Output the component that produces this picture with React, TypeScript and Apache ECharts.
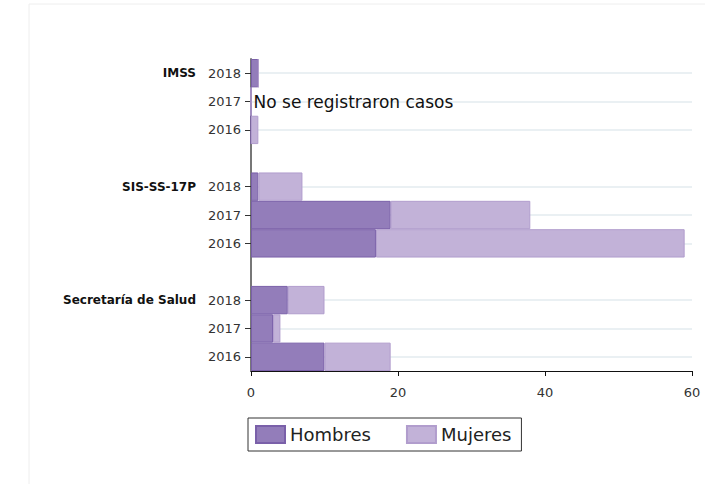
import React, { useEffect, useRef } from "react";
import * as echarts from "echarts";

// rows from top to bottom ("gap" rows are empty separators)
const rowKeys = ["IMSS|2018", "IMSS|2017", "IMSS|2016", "gap1", "SIS|2018", "SIS|2017", "SIS|2016", "gap2", "SS|2018", "SS|2017", "SS|2016"];
const rowYears = ["2018", "2017", "2016", "", "2018", "2017", "2016", "", "2018", "2017", "2016"];
const rowGroups = ["IMSS", "", "", "", "SIS-SS-17P", "", "", "", "Secretaría de Salud", "", ""];
const hombres = [1, 0, 0, null, 1, 19, 17, null, 5, 3, 10];
const mujeres = [0, 0, 1, null, 6, 19, 42, null, 5, 1, 9];
const noteRow = 1;
const noteText = "No se registraron casos";
const xTicks = [0, 20, 40, 60];

const FONT = "'DejaVu Sans', sans-serif";

export default function App() {
  const ref = useRef<HTMLDivElement>(null);
  useEffect(() => {
    if (!ref.current) return;
    const chart = echarts.init(ref.current, null, { renderer: "svg" });
    const realRows = rowKeys.filter((_, i) => rowYears[i] !== "");
    const option: any = {
      animation: false,
      textStyle: { fontFamily: FONT },
      graphic: [
        { type: "line", shape: { x1: 29, y1: 4, x2: 705, y2: 4 }, style: { stroke: "#eeeeee", lineWidth: 1 }, silent: true },
        { type: "line", shape: { x1: 29, y1: 4, x2: 29, y2: 484 }, style: { stroke: "#eeeeee", lineWidth: 1 }, silent: true },
      ],
      grid: { left: 251, right: 30, top: 59, bottom: 113, containLabel: false },
      legend: {
        left: 248,
        top: 418,
        orient: "horizontal",
        borderColor: "#333",
        borderWidth: 1,
        padding: [7, 10, 7, 7],
        itemWidth: 29,
        itemHeight: 17,
        itemGap: 35,
        icon: "rect",
        textStyle: { fontSize: 18, color: "#222", fontFamily: FONT },
        data: ["Hombres", "Mujeres"],
      },
      xAxis: {
        type: "value",
        min: xTicks[0],
        max: xTicks[xTicks.length - 1],
        interval: 20,
        axisLine: { show: true, lineStyle: { color: "#111", width: 1 } },
        axisTick: { show: true, length: 5, lineStyle: { color: "#111" } },
        axisLabel: { color: "#333", fontSize: 13, margin: 15 },
        splitLine: { show: false },
      },
      yAxis: [
        {
          type: "category",
          data: rowKeys,
          inverse: true,
          boundaryGap: true,
          axisLine: { show: true, lineStyle: { color: "#777", width: 2 } },
          axisTick: {
            show: true,
            alignWithLabel: true,
            length: 6,
            lineStyle: { color: "#333" },
            interval: (i: number) => rowYears[i] !== "",
          },
          axisLabel: {
            interval: 0,
            color: "#333",
            fontSize: 13,
            margin: 10,
            formatter: (_v: string, i: number) => rowYears[i],
          },
          splitLine: { show: false },
        },
        {
          type: "category",
          data: rowKeys,
          inverse: true,
          position: "left",
          axisLine: { show: false },
          axisTick: { show: false },
          axisLabel: {
            interval: 0,
            color: "#111",
            fontSize: 12,
            fontWeight: "bold",
            margin: 55,
            formatter: (_v: string, i: number) => rowGroups[i],
          },
          splitLine: { show: false },
        },
      ],
      series: [
        {
          type: "line",
          data: [],
          z: 1,
          silent: true,
          markLine: {
            z: 1,
            silent: true,
            symbol: ["none", "none"],
            label: { show: false },
            lineStyle: { color: "#eaf0f3", width: 2, type: "solid" },
            data: realRows.map((k) => ({ yAxis: k })),
          },
        },
        {
          name: "Hombres",
          type: "bar",
          stack: "total",
          z: 2,
          barCategoryGap: "0%",
          itemStyle: { color: "#937dba", borderColor: "#7a60a9", borderWidth: 1 },
          data: hombres.map((v, i) =>
            i === noteRow
              ? {
                  value: v,
                  label: {
                    show: true,
                    position: "right",
                    distance: 2,
                    formatter: noteText,
                    color: "#111",
                    fontSize: 17,
                    fontFamily: FONT,
                  },
                }
              : v === null
              ? "-"
              : v
          ),
        },
        {
          name: "Mujeres",
          type: "bar",
          stack: "total",
          z: 2,
          barCategoryGap: "0%",
          itemStyle: { color: "#c2b2d8", borderColor: "#b19dcd", borderWidth: 1 },
          data: mujeres.map((v) => (v === null ? "-" : v)),
        },
      ],
    };
    chart.setOption(option);
    return () => chart.dispose();
  }, []);
  return (
    <div
      ref={ref}
      style={{ position: "fixed", left: 0, top: 0, width: 722, height: 484, background: "#fff" }}
    />
  );
}
